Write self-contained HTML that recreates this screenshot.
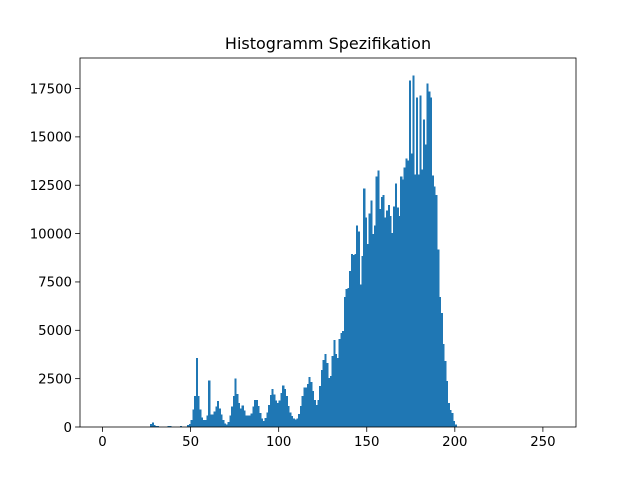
<!DOCTYPE html>
<html><head><meta charset="utf-8"><style>
body{margin:0;background:#fff;}
svg text{font-family:"DejaVu Sans","Liberation Sans",sans-serif;fill:#000;}
</style></head><body>
<svg id="chart" width="640" height="480" viewBox="0 0 640 480" xmlns="http://www.w3.org/2000/svg">
<rect width="640" height="480" fill="#fff"/>
<text x="328" y="49" font-size="16" text-anchor="middle">Histogramm Spezifikation</text>
<g id="bars" shape-rendering="crispEdges"></g>
<g id="axes"></g>
</svg>
<script>
const binValues = {
27:150,28:220,29:100,30:50,31:50,37:50,38:50,44:50,48:100,49:150,50:350,
51:900,52:1600,53:3560,54:1600,55:900,56:500,57:350,58:350,59:600,60:2400,61:650,62:650,63:800,64:1050,65:1350,66:950,67:650,68:350,69:180,70:120,71:250,72:600,73:1050,74:1600,75:2500,76:1700,77:1250,78:950,79:1100,80:850,81:600,82:600,83:600,84:700,85:1050,86:1400,
87:1390,88:1080,89:720,90:430,91:320,92:460,93:740,94:1130,95:1650,96:1960,97:1690,98:1360,99:1250,100:1360,101:1770,102:2150,103:1960,104:1600,105:1080,106:740,107:580,108:430,109:400,110:430,111:670,112:1080,113:1600,114:2050,115:2050,116:2220,117:2580,118:2320,119:1850,120:1390,121:1130,122:1390,123:2110,124:2940,125:3460,126:3770,127:3300,128:2530,129:2630,130:3670,131:4500,132:3770,133:3560,134:4550,135:4860,136:4960,137:6720,138:7130,139:7180,140:8060,141:8940,142:8890,143:8940,144:10430,145:10120,
146:7380,147:8830,148:12340,149:10840,150:9450,151:11050,152:11720,153:9970,154:10430,155:12960,156:13270,157:11260,158:11880,159:11990,160:10840,161:11200,162:11470,163:10900,164:10020,165:11400,166:12600,167:11360,168:10900,169:12960,170:12800,171:13420,172:13890,173:13790,174:17910,175:14150,176:18170,177:13060,178:17040,179:13060,180:17140,181:13320,182:15900,183:14610,184:17760,185:17350,186:17040,187:13010,188:12440,189:11990,190:9190,191:6710,192:5890,193:4290,194:3410,195:2370,196:1240,197:880,198:720,199:310,200:120
};
const counts = [];
for (let i = 0; i < 256; i++) counts.push(binValues[i] || 0);
const xTicks = [0,50,100,150,200,250];
const yTicks = [0,2500,5000,7500,10000,12500,15000,17500];

const L=80,R=576,T=58,B=427;
const x0=-12.8,x1=268.8;
const ymax=Math.max(...counts)*1.05;
const sx=v=>L+(v-x0)/(x1-x0)*(R-L);
const sy=v=>B-v/ymax*(B-T);
const NS="http://www.w3.org/2000/svg";
const bars=document.getElementById('bars');
counts.forEach((c,i)=>{
  if(c<=0) return;
  const r=document.createElementNS(NS,'rect');
  
  
  r.setAttribute('x',sx(i));r.setAttribute('width',sx(i+1)-sx(i)+0.3);
  r.setAttribute('y',sy(c));r.setAttribute('height',B-sy(c));
  r.setAttribute('fill','#1f77b4');
  bars.appendChild(r);
});
const ax=document.getElementById('axes');
const fr=document.createElementNS(NS,'rect');


fr.setAttribute('x',L);fr.setAttribute('y',T);fr.setAttribute('width',R-L);fr.setAttribute('height',B-T);
fr.setAttribute('fill','none');fr.setAttribute('stroke','#000');fr.setAttribute('stroke-width','0.8');
ax.appendChild(fr);
xTicks.forEach(t=>{
  const X=sx(t);
  const l=document.createElementNS(NS,'line');
  
  
  l.setAttribute('x1',X);l.setAttribute('x2',X);l.setAttribute('y1',B);l.setAttribute('y2',B+4.9);
  l.setAttribute('stroke','#000');l.setAttribute('stroke-width','0.8');
  ax.appendChild(l);
  const tx=document.createElementNS(NS,'text');
  
  
  tx.setAttribute('x',X);tx.setAttribute('y',B+19);tx.setAttribute('font-size','13.3');tx.setAttribute('text-anchor','middle');
  tx.textContent=t;ax.appendChild(tx);
});
yTicks.forEach(t=>{
  const Y=sy(t);
  const l=document.createElementNS(NS,'line');
  
  
  l.setAttribute('x1',L-4.9);l.setAttribute('x2',L);l.setAttribute('y1',Y);l.setAttribute('y2',Y);
  l.setAttribute('stroke','#000');l.setAttribute('stroke-width','0.8');
  ax.appendChild(l);
  const tx=document.createElementNS(NS,'text');
  
  
  tx.setAttribute('x',L-8);tx.setAttribute('y',Y+4.8);tx.setAttribute('font-size','13.3');tx.setAttribute('text-anchor','end');
  tx.textContent=t;ax.appendChild(tx);
});
</script>
</body></html>
